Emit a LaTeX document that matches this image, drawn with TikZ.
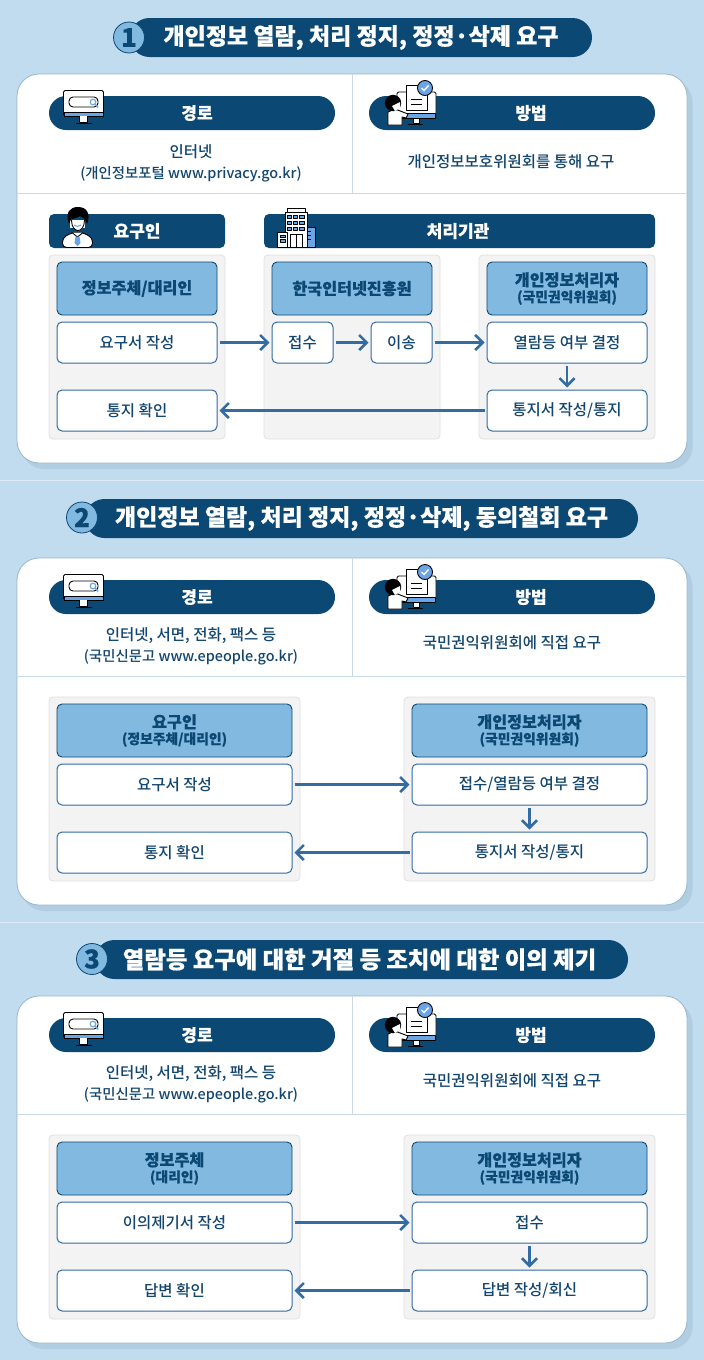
\documentclass[tikz,border=0pt]{standalone}
\usepackage{fontspec}
\setmainfont{Noto Sans CJK KR Medium}[BoldFont={Noto Sans CJK KR Black}, BoldFeatures={FakeBold=0.4}]
\usetikzlibrary{arrows.meta}
\definecolor{skybg}{HTML}{C1DBEF}
\definecolor{skyline}{HTML}{DCEBF7}
\definecolor{shadowblue}{HTML}{B0CDE2}
\definecolor{cardedge}{HTML}{98B6CB}
\definecolor{divider}{HTML}{C9DAE6}
\definecolor{navy}{HTML}{0B4873}
\definecolor{inktext}{HTML}{12466F}
\definecolor{midblue}{HTML}{82B9E1}
\definecolor{flowblue}{HTML}{336BA3}
\definecolor{panelgray}{HTML}{F3F3F3}
\definecolor{paneledge}{HTML}{E0E0E0}
\definecolor{iconblue}{HTML}{6AA5E8}
\tikzset{
  titlepill/.style={fill=navy, text=white, rounded corners=19.5, minimum height=39, inner sep=0, font=\fontsize{23}{26}\selectfont\bfseries},
  badge/.style={circle, fill=midblue, draw=navy, line width=0.8, minimum size=31, inner sep=0, text=navy, font=\fontsize{26}{26}\selectfont\bfseries},
  headpill/.style={fill=navy, text=white, rounded corners=17, minimum width=286, minimum height=34, inner sep=0, font=\fontsize{17}{20}\selectfont\bfseries},
  headbox/.style={fill=navy, text=white, rounded corners=5, minimum height=34, inner sep=0, font=\fontsize{17}{20}\selectfont\bfseries},
  bluebox/.style={fill=midblue, draw=navy, line width=0.9, rounded corners=5, minimum height=53, inner sep=0, align=center, text=navy, font=\fontsize{16.2}{19}\selectfont\bfseries},
  whitebox/.style={fill=white, draw=flowblue, line width=1, rounded corners=5, minimum height=41, inner sep=0, text=inktext, font=\fontsize{15.5}{19}\selectfont},
  plaintext/.style={align=center, text=inktext, inner sep=0, font=\fontsize{15.5}{21}\selectfont},
  flow/.style={->, >={Straight Barb[length=7.5, width=15]}, draw=flowblue, line width=2.6, shorten >=2, shorten <=2},
  icon/.style={draw=black, line width=0.9, line join=round},
  monitoricon/.pic={
    \draw[icon, fill=white, rounded corners=1.5] (63.5,90.5) rectangle (103.5,116);
    \draw[icon, fill=iconblue] (64,112) rectangle (103,116);
    \draw[icon, fill=white] (79,116) -- (79,122.5) -- (87,122.5) -- (87,116);
    \draw[icon, fill=white, line width=1.2] (75.5,123.5) -- (91.5,123.5);
    \draw[icon, rounded corners=4] (69,97) rectangle (98,107);
    \draw[iconblue, line width=1.2] (93,102) circle (2.8);
    \draw[iconblue, line width=1.4] (95,104) -- (98,107.5);
  },
  methodicon/.pic={
    \draw[icon, fill=white, rounded corners=1.5] (397,92) rectangle (436,118.5);
    \draw[icon, fill=iconblue] (397.5,113) rectangle (435.5,118.5);
    \draw[icon, fill=white] (413,118.5) -- (413,123.5) -- (419,123.5) -- (419,118.5);
    \draw[icon, line width=1.4] (408,124.5) -- (423,124.5);
    \draw[icon, fill=white] (406,85) rectangle (427,110);
    \draw[icon] (411,99.5) -- (422,99.5);
    \draw[icon] (411,104.5) -- (422,104.5);
    \draw[icon, fill=iconblue] (425,88) circle (7.5);
    \draw[white, line width=1.4] (421.5,88) -- (424,90.5) -- (428.5,85.5);
    \draw[icon, fill=white] (388,125) -- (388,112) -- (395,109) -- (408,114) -- (406,118) -- (402,117) -- (402,125) -- cycle;
    \fill[black] (393,103) circle (8.2);
    \fill[white] (392,106) -- (400,102) -- (400,108) -- (395,111) -- cycle;
  },
  personicon/.pic={
    \draw[icon, fill=white, rounded corners=4] (62.5,247.5) -- (62.5,238) -- (72,232.5) -- (83,232.5) -- (92.5,238) -- (92.5,247.5) -- cycle;
    \draw[icon, fill=white] (72,232.5) -- (77.5,237) -- (83,232.5);
    \fill[iconblue] (75.5,236.5) -- (79.5,236.5) -- (80.5,243) -- (77.5,246) -- (74.5,243) -- cycle;
    \fill[white] (70,220) rectangle (85,228);
    \draw[icon, fill=white] (71.5,220) .. controls (71.5,234) and (84.5,234) .. (84.5,220);
    \fill[black] (69,224) .. controls (65,212) and (70,207) .. (78,207) .. controls (87,207) and (91,214) .. (87,224) .. controls (85,218) and (82,217) .. (80,216) .. controls (77,218) and (73,219) .. (71,219) -- cycle;
    \draw[iconblue, line width=1] (74,225) .. controls (76,227) and (79,227) .. (81,225);
  },
  buildingicon/.pic={
    \draw[icon, fill=white] (287,212) -- (287,208) -- (305,208) -- (305,212);
    \draw[icon, fill=white] (306,227) rectangle (315,247);
    \fill[iconblue] (307,228) rectangle (314.5,246.5);
    \draw[icon, line width=0.6] (307,231) -- (311,231) (307,235) -- (311,235) (307,239) -- (311,239);
    \draw[icon, fill=white] (285,212) rectangle (307,247);
    \foreach \wx in {287,293,299.5}
      \foreach \wy in {215,221,227}
        \draw[icon, fill=iconblue, line width=0.5] (\wx,\wy) rectangle ++(4.6,3.4);
    \draw[icon, fill=white] (290,234) rectangle (302,247);
    \draw[icon, line width=0.7] (296,234) -- (296,247);
    \draw[icon, fill=white] (277.5,232) rectangle (287,247);
    \draw[icon, fill=iconblue, line width=0.5] (280,235) rectangle (285,237.5);
    \draw[icon, fill=iconblue, line width=0.5] (280,239.5) rectangle (285,242);
    \draw[icon, line width=1.2] (276.5,247.5) -- (316,247.5);
  },
}
\newcommand{\cardpanel}[3]{
  \fill[shadowblue, rounded corners=22] (22,#1+6) rectangle (692.5,#2+6);
  \draw[fill=white, draw=cardedge, line width=0.8, rounded corners=22] (17,#1) rectangle (687,#2);
  \draw[divider, line width=1] (352,#1) -- (352,#3);
  \draw[divider, line width=1] (17,#3) -- (687,#3);
}
\newcommand{\graypanel}[4]{
  \draw[fill=panelgray, draw=paneledge, line width=0.8, rounded corners=4] (#1,#2) rectangle (#3,#4);
}
\newcommand{\smallsub}[1]{{\fontsize{13.8}{15}\selectfont #1}}
\newcommand{\smallurl}[1]{{\fontsize{14.4}{21}\selectfont #1}}
\begin{document}
\begin{tikzpicture}[x=1pt, y=-1pt]
\fill[skybg] (0,0) rectangle (704,1360);
\useasboundingbox (0,0) rectangle (704,1360);
\draw[skyline, line width=1] (0,480.5) -- (704,480.5);
\draw[skyline, line width=1] (0,922.5) -- (704,922.5);

\node[titlepill, minimum width=462] (title1) at (361,37.5) {개인정보 열람, 처리 정지, 정정·삭제 요구};
\node[badge] (badge1) at (129,37.5) {1};
\cardpanel{74}{463}{193}
\node[headpill] (route1) at (192,113) {\hspace{10pt}경로};
\node[headpill] (method1) at (512,113) {\hspace{38pt}방법};
\pic at (0,0) {monitoricon};
\pic at (0,0) {methodicon};
\node[plaintext] (routetext1) at (191,163) {인터넷\\\smallurl{(개인정보포털 www.privacy.go.kr)}};
\node[plaintext] (methodtext1) at (511,162) {개인정보보호위원회를 통해 요구};
\node[headbox, minimum width=176] (requester1) at (137,231) {요구인};
\node[headbox, minimum width=391] (agency1) at (459.5,231) {\hspace{-3pt}처리기관};
\pic at (0,0) {personicon};
\pic at (0,0) {buildingicon};
\graypanel{49}{255}{225}{439}
\graypanel{264}{255}{440}{439}
\graypanel{479}{255}{655}{439}
\node[bluebox, minimum width=160] (subject1) at (137,288.5) {정보주체/대리인};
\node[bluebox, minimum width=160] (kisa1) at (352,288.5) {한국인터넷진흥원};
\node[bluebox, minimum width=160] (handler1) at (567,288.5) {개인정보처리자\\[-3pt]\smallsub{(국민권익위원회)}};
\node[whitebox, minimum width=160] (write1) at (137,342.5) {요구서 작성};
\node[whitebox, minimum width=61] (recv1) at (302.5,342.5) {접수};
\node[whitebox, minimum width=61] (pass1) at (401.5,342.5) {이송};
\node[whitebox, minimum width=160] (decide1) at (567,342.5) {열람등 여부 결정};
\node[whitebox, minimum width=160] (check1) at (137,410.5) {통지 확인};
\node[whitebox, minimum width=160] (notify1) at (567,410.5) {통지서 작성/통지};
\draw[flow] (write1) -- (recv1);
\draw[flow] (recv1) -- (pass1);
\draw[flow] (pass1) -- (decide1);
\draw[flow] (decide1) -- (notify1);
\draw[flow] (notify1) -- (check1);

\node[titlepill, minimum width=553] (title2) at (361.5,518.5) {개인정보 열람, 처리 정지, 정정·삭제, 동의철회 요구};
\node[badge] (badge2) at (82,517.5) {2};
\cardpanel{558}{905}{676}
\node[headpill] (route2) at (192,597) {\hspace{10pt}경로};
\node[headpill] (method2) at (512,597) {\hspace{38pt}방법};
\pic at (0,484) {monitoricon};
\pic at (0,484) {methodicon};
\node[plaintext] (routetext2) at (191,646) {인터넷, 서면, 전화, 팩스 등\\\smallurl{(국민신문고 www.epeople.go.kr)}};
\node[plaintext] (methodtext2) at (512,643) {국민권익위원회에 직접 요구};
\graypanel{49}{697}{300}{881}
\graypanel{404}{697}{655}{881}
\node[bluebox, minimum width=235] (subject2) at (174.5,730.5) {요구인\\[-3pt]\smallsub{(정보주체/대리인)}};
\node[bluebox, minimum width=235] (handler2) at (529.5,730.5) {개인정보처리자\\[-3pt]\smallsub{(국민권익위원회)}};
\node[whitebox, minimum width=235] (write2) at (174.5,784.5) {요구서 작성};
\node[whitebox, minimum width=235] (decide2) at (529.5,784.5) {접수/열람등 여부 결정};
\node[whitebox, minimum width=235] (check2) at (174.5,852.5) {통지 확인};
\node[whitebox, minimum width=235] (notify2) at (529.5,852.5) {통지서 작성/통지};
\draw[flow] (write2) -- (decide2);
\draw[flow] (decide2) -- (notify2);
\draw[flow] (notify2) -- (check2);

\node[titlepill, minimum width=533, font=\fontsize{23.4}{26}\selectfont\bfseries] (title3) at (361.5,959.5) {\hspace{-4pt}열람등 요구에 대한 거절 등 조치에 대한 이의 제기};
\node[badge] (badge3) at (92,959) {3};
\cardpanel{996}{1343}{1114}
\node[headpill] (route3) at (192,1035) {\hspace{10pt}경로};
\node[headpill] (method3) at (512,1035) {\hspace{38pt}방법};
\pic at (0,922) {monitoricon};
\pic at (0,922) {methodicon};
\node[plaintext] (routetext3) at (191,1084) {인터넷, 서면, 전화, 팩스 등\\\smallurl{(국민신문고 www.epeople.go.kr)}};
\node[plaintext] (methodtext3) at (512,1081) {국민권익위원회에 직접 요구};
\graypanel{49}{1135}{300}{1319}
\graypanel{404}{1135}{655}{1319}
\node[bluebox, minimum width=235] (subject3) at (174.5,1168.5) {정보주체\\[-3pt]\smallsub{(대리인)}};
\node[bluebox, minimum width=235] (handler3) at (529.5,1168.5) {개인정보처리자\\[-3pt]\smallsub{(국민권익위원회)}};
\node[whitebox, minimum width=235] (write3) at (174.5,1222.5) {이의제기서 작성};
\node[whitebox, minimum width=235] (recv3) at (529.5,1222.5) {접수};
\node[whitebox, minimum width=235] (check3) at (174.5,1290.5) {답변 확인};
\node[whitebox, minimum width=235] (notify3) at (529.5,1290.5) {답변 작성/회신};
\draw[flow] (write3) -- (recv3);
\draw[flow] (recv3) -- (notify3);
\draw[flow] (notify3) -- (check3);
\end{tikzpicture}
\end{document}
